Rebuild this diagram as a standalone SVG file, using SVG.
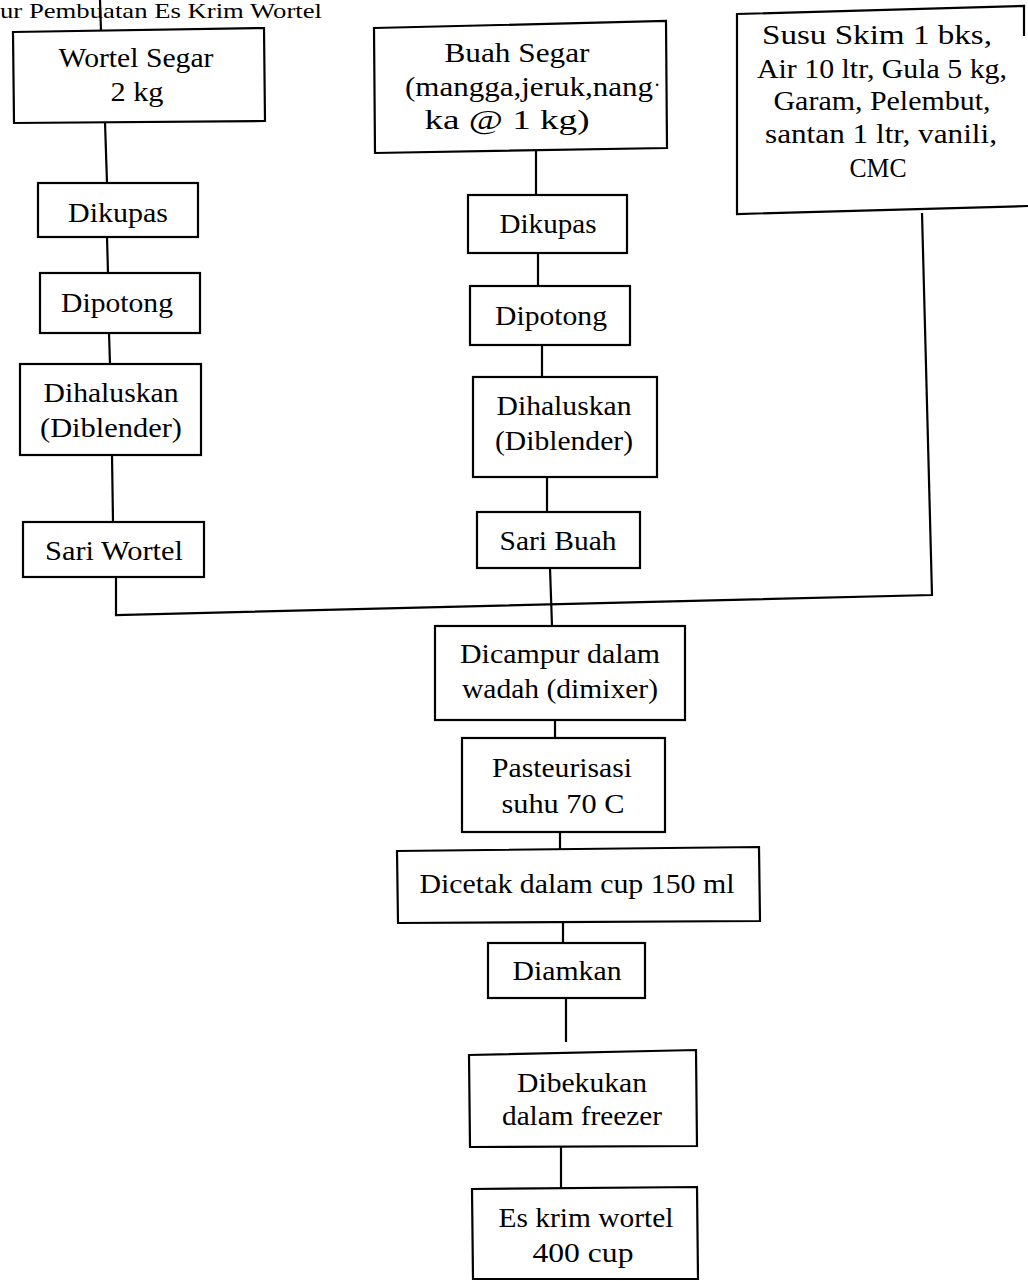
<svg xmlns="http://www.w3.org/2000/svg" width="1028" height="1281" viewBox="0 0 1028 1281">
<style>
.b{fill:#fff;stroke:#000;stroke-width:2.2}
.c{fill:none;stroke:#000;stroke-width:2.2}
text{font-family:"Liberation Serif","Times New Roman",serif;font-size:28px;fill:#000;text-anchor:middle}
</style>
<rect width="1028" height="1281" fill="#fff"/>
<text id="title" x="161" y="18" textLength="322" lengthAdjust="spacingAndGlyphs" style="font-size:22px">ur Pembuatan Es Krim Wortel</text>
<g id="connectors">
<path class="c" d="M100,0 L101,31"/>
<path class="c" d="M105,122 L107,183"/>
<path class="c" d="M107,237 L108,273"/>
<path class="c" d="M109,333 L110,364"/>
<path class="c" d="M112,455 L113,522"/>
<path class="c" d="M922,213 L932,595 L116,615 L116,577"/>
<path class="c" d="M536,151 L536,195"/>
<path class="c" d="M538,253 L538,286"/>
<path class="c" d="M542,345 L542,377"/>
<path class="c" d="M547,477 L547,512"/>
<path class="c" d="M550,568 L552,626"/>
<path class="c" d="M555,720 L555,738"/>
<path class="c" d="M560,832 L560,849"/>
<path class="c" d="M563,922 L563,943"/>
<path class="c" d="M566,998 L566,1042"/>
<path class="c" d="M561,1147 L561,1188"/>
</g>
<g id="wortel-segar">
<path class="b" d="M13,32 L264,28 L265,121 L14,123 Z"/>
<text x="136" y="67" textLength="155" lengthAdjust="spacingAndGlyphs">Wortel Segar</text>
<text x="137" y="101" textLength="53" lengthAdjust="spacingAndGlyphs">2 kg</text>
</g>
<g id="buah-segar">
<path class="b" d="M374,28 L666,21 L667,148 L375,153 Z"/>
<text x="517" y="62" textLength="145" lengthAdjust="spacingAndGlyphs">Buah Segar</text>
<text x="529" y="96" textLength="248" lengthAdjust="spacingAndGlyphs">(mangga,jeruk,nang</text>
<text x="657" y="92" style="font-size:20px">·</text>
<text x="507" y="129" textLength="165" lengthAdjust="spacingAndGlyphs">ka @ 1 kg)</text>
</g>
<g id="bahan">
<path class="b" d="M1024,36 L1024,6 L737,14 L737,214 L1028,206"/>
<text x="877" y="44" textLength="230" lengthAdjust="spacingAndGlyphs">Susu Skim 1 bks,</text>
<text x="882" y="78" textLength="250" lengthAdjust="spacingAndGlyphs">Air 10 ltr, Gula 5 kg,</text>
<text x="882" y="110" textLength="217" lengthAdjust="spacingAndGlyphs">Garam, Pelembut,</text>
<text x="881" y="143" textLength="232" lengthAdjust="spacingAndGlyphs">santan 1 ltr, vanili,</text>
<text x="878" y="177" textLength="57" lengthAdjust="spacingAndGlyphs">CMC</text>
</g>
<g id="dikupas-1">
<rect class="b" x="38" y="183" width="160" height="54"/>
<text x="118" y="222" textLength="100" lengthAdjust="spacingAndGlyphs">Dikupas</text>
</g>
<g id="dipotong-1">
<rect class="b" x="40" y="273" width="160" height="60"/>
<text x="117" y="312" textLength="112" lengthAdjust="spacingAndGlyphs">Dipotong</text>
</g>
<g id="dihaluskan-1">
<rect class="b" x="20" y="364" width="181" height="91"/>
<text x="111" y="402" textLength="135" lengthAdjust="spacingAndGlyphs">Dihaluskan</text>
<text x="111" y="437" textLength="142" lengthAdjust="spacingAndGlyphs">(Diblender)</text>
</g>
<g id="sari-wortel">
<rect class="b" x="23" y="522" width="181" height="55"/>
<text x="114" y="560" textLength="138" lengthAdjust="spacingAndGlyphs">Sari Wortel</text>
</g>
<g id="dikupas-2">
<rect class="b" x="468" y="195" width="159" height="58"/>
<text x="548" y="233" textLength="97" lengthAdjust="spacingAndGlyphs">Dikupas</text>
</g>
<g id="dipotong-2">
<rect class="b" x="470" y="286" width="160" height="59"/>
<text x="551" y="325" textLength="112" lengthAdjust="spacingAndGlyphs">Dipotong</text>
</g>
<g id="dihaluskan-2">
<rect class="b" x="473" y="377" width="184" height="100"/>
<text x="564" y="415" textLength="135" lengthAdjust="spacingAndGlyphs">Dihaluskan</text>
<text x="564" y="450" textLength="138" lengthAdjust="spacingAndGlyphs">(Diblender)</text>
</g>
<g id="sari-buah">
<rect class="b" x="477" y="512" width="163" height="56"/>
<text x="558" y="550" textLength="117" lengthAdjust="spacingAndGlyphs">Sari Buah</text>
</g>
<g id="dicampur">
<rect class="b" x="435" y="626" width="250" height="94"/>
<text x="560" y="663" textLength="200" lengthAdjust="spacingAndGlyphs">Dicampur dalam</text>
<text x="560" y="698" textLength="196" lengthAdjust="spacingAndGlyphs">wadah (dimixer)</text>
</g>
<g id="pasteurisasi">
<rect class="b" x="462" y="738" width="203" height="94"/>
<text x="562" y="777" textLength="140" lengthAdjust="spacingAndGlyphs">Pasteurisasi</text>
<text x="563" y="813" textLength="123" lengthAdjust="spacingAndGlyphs">suhu 70 C</text>
</g>
<g id="dicetak">
<path class="b" d="M397,851 L759,847 L760,921 L398,923 Z"/>
<text x="577" y="893" textLength="315" lengthAdjust="spacingAndGlyphs">Dicetak dalam cup 150 ml</text>
</g>
<g id="diamkan">
<rect class="b" x="488" y="943" width="157" height="55"/>
<text x="567" y="980" textLength="109" lengthAdjust="spacingAndGlyphs">Diamkan</text>
</g>
<g id="dibekukan">
<path class="b" d="M469,1055 L696,1050 L697,1146 L470,1147 Z"/>
<text x="582" y="1092" textLength="130" lengthAdjust="spacingAndGlyphs">Dibekukan</text>
<text x="582" y="1125" textLength="160" lengthAdjust="spacingAndGlyphs">dalam freezer</text>
</g>
<g id="es-krim">
<path class="b" d="M472,1189 L697,1187 L698,1279 L473,1279 Z"/>
<text x="586" y="1227" textLength="175" lengthAdjust="spacingAndGlyphs">Es krim wortel</text>
<text x="583" y="1262" textLength="101" lengthAdjust="spacingAndGlyphs">400 cup</text>
</g>
</svg>
